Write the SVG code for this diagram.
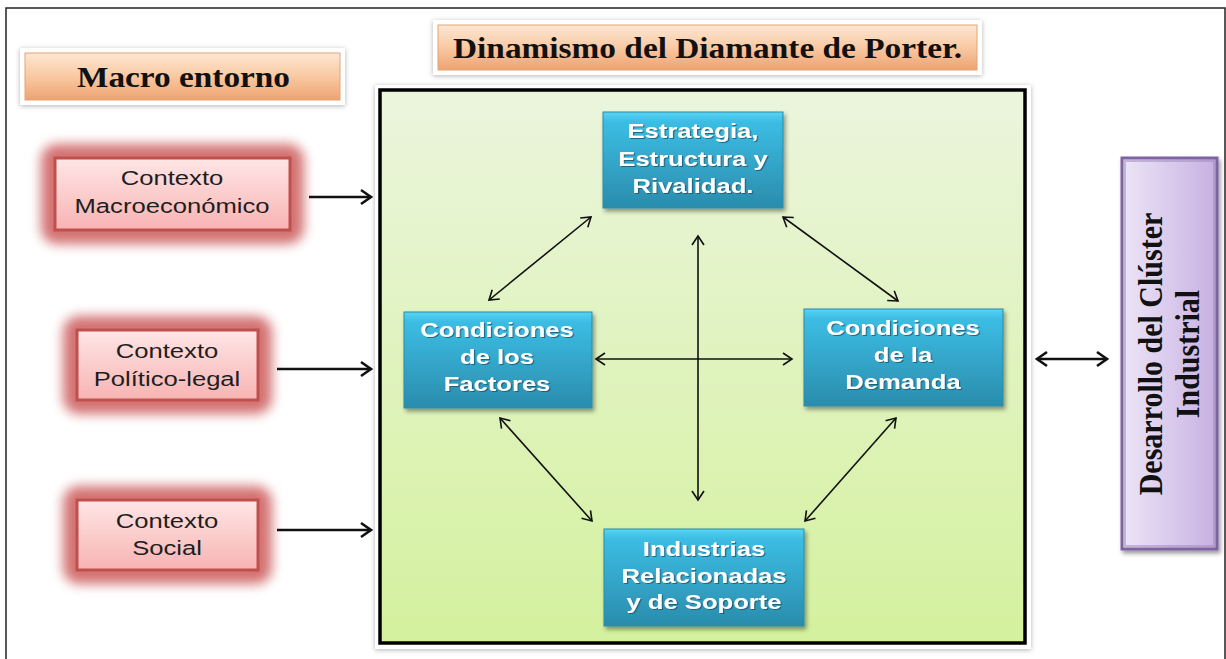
<svg xmlns="http://www.w3.org/2000/svg" width="1226" height="659" viewBox="0 0 1226 659">
<style>
.hdr{font-family:"Liberation Serif","Times New Roman",serif;font-weight:bold;font-size:29px;fill:#111}
.bt{font-family:"Liberation Sans",Arial,sans-serif;font-weight:bold;font-size:21px;fill:#ffffff;text-anchor:middle}
.pt{font-family:"Liberation Sans",Arial,sans-serif;font-size:20.5px;fill:#1e1e1e;text-anchor:middle}
.vt{font-family:"Liberation Serif","Times New Roman",serif;font-weight:bold;font-size:30px;fill:#111;text-anchor:middle}
.blue{fill:url(#gBlue);stroke:#2a8aa8;stroke-width:1}
.pink{fill:url(#gPink);stroke:#c0504d;stroke-width:3}
.peach{fill:url(#gPeach);stroke:#e3a477;stroke-width:1}
.glow{fill:#c94f50;opacity:0.8}
.thin{stroke:#111;stroke-width:1.6;fill:none;marker-end:url(#aThin);marker-start:url(#aThin)}
.thick{stroke:#111;stroke-width:2.6;fill:none;marker-end:url(#aThick)}
</style>
<defs>
<linearGradient id="gBlue" x1="0" y1="0" x2="0" y2="1">
<stop offset="0" stop-color="#58d4f4"/>
<stop offset="0.1" stop-color="#3cbde4"/>
<stop offset="1" stop-color="#2a8cac"/>
</linearGradient>
<linearGradient id="gPink" x1="0" y1="0" x2="0" y2="1">
<stop offset="0" stop-color="#ffe6e6"/>
<stop offset="1" stop-color="#f8b3b3"/>
</linearGradient>
<linearGradient id="gPeach" x1="0" y1="0" x2="0" y2="1">
<stop offset="0" stop-color="#fde7d5"/>
<stop offset="0.5" stop-color="#f9c9a2"/>
<stop offset="1" stop-color="#eea271"/>
</linearGradient>
<linearGradient id="gGreen" x1="0" y1="0" x2="0" y2="1">
<stop offset="0" stop-color="#ebf5dd"/>
<stop offset="1" stop-color="#d4f19e"/>
</linearGradient>
<linearGradient id="gPurple" x1="0" y1="0" x2="1" y2="0">
<stop offset="0" stop-color="#ece5f7"/>
<stop offset="1" stop-color="#c8b0e2"/>
</linearGradient>
<filter id="fGlow" x="-30%" y="-40%" width="160%" height="180%">
<feGaussianBlur stdDeviation="6"/>
</filter>
<filter id="fShadow" x="-10%" y="-10%" width="130%" height="130%">
<feDropShadow dx="2" dy="3" stdDeviation="2" flood-color="#000" flood-opacity="0.4"/>
</filter>
<filter id="fSoft" x="-10%" y="-20%" width="120%" height="150%">
<feDropShadow dx="0" dy="1" stdDeviation="2.5" flood-color="#000" flood-opacity="0.3"/>
</filter>
<filter id="fTxt" x="-10%" y="-20%" width="120%" height="150%">
<feDropShadow dx="1" dy="1" stdDeviation="0.6" flood-color="#0d4a5e" flood-opacity="0.7"/>
</filter>
<marker id="aThin" viewBox="-11 -7 13 14" markerWidth="13" markerHeight="14" refX="0" refY="0" orient="auto-start-reverse" markerUnits="userSpaceOnUse">
<path d="M-9,-6 L0,0 L-9,6" fill="none" stroke="#111" stroke-width="1.6"/>
</marker>
<marker id="aThick" viewBox="-13 -9 16 18" markerWidth="16" markerHeight="18" refX="0" refY="0" orient="auto-start-reverse" markerUnits="userSpaceOnUse">
<path d="M-10,-7 L0,0 L-10,7" fill="none" stroke="#111" stroke-width="2.6"/>
</marker>
</defs>

<rect x="0" y="0" width="1226" height="659" fill="#ffffff"/>
<rect id="frame" x="6" y="8" width="1219" height="670" fill="none" stroke="#222" stroke-width="1.5"/>

<g id="macro-entorno">
<rect x="20" y="48" width="325" height="57" fill="#fff" filter="url(#fSoft)"/>
<rect class="peach" x="25" y="53" width="315" height="47"/>
<text class="hdr" x="77" y="87" textLength="213" lengthAdjust="spacingAndGlyphs">Macro entorno</text>
</g>

<g id="titulo">
<rect x="433" y="20" width="549" height="55" fill="#fff" filter="url(#fSoft)"/>
<rect class="peach" x="438" y="25" width="539" height="45"/>
<text class="hdr" x="453" y="58" textLength="509" lengthAdjust="spacingAndGlyphs">Dinamismo del Diamante de Porter.</text>
</g>

<g id="diamante">
<rect x="375" y="85" width="656" height="564" fill="#fff" filter="url(#fSoft)"/>
<rect x="380" y="90" width="645" height="553" fill="url(#gGreen)" stroke="#000" stroke-width="3.5"/>
</g>

<g id="ctx-macro">
<rect class="glow" x="41" y="144" width="263" height="100" rx="16" filter="url(#fGlow)"/>
<rect class="pink" x="55" y="158" width="235" height="72"/>
<text class="pt" transform="translate(172,0) scale(1.25,1)"><tspan x="0" y="185">Contexto</tspan><tspan x="0" y="213">Macroeconómico</tspan></text>
</g>

<g id="ctx-politico">
<rect class="glow" x="63" y="316" width="209" height="98" rx="16" filter="url(#fGlow)"/>
<rect class="pink" x="77" y="330" width="181" height="70"/>
<text class="pt" transform="translate(167,0) scale(1.25,1)"><tspan x="0" y="358">Contexto</tspan><tspan x="0" y="386">Político-legal</tspan></text>
</g>

<g id="ctx-social">
<rect class="glow" x="63" y="486" width="209" height="98" rx="16" filter="url(#fGlow)"/>
<rect class="pink" x="77" y="500" width="181" height="70"/>
<text class="pt" transform="translate(167,0) scale(1.25,1)"><tspan x="0" y="528">Contexto</tspan><tspan x="0" y="555">Social</tspan></text>
</g>

<g id="estrategia">
<rect class="blue" x="603" y="112" width="180" height="96" filter="url(#fShadow)"/>
<text class="bt" filter="url(#fTxt)" transform="translate(693,0) scale(1.22,1)"><tspan x="0" y="138">Estrategia,</tspan><tspan x="0" y="166">Estructura y</tspan><tspan x="0" y="193">Rivalidad.</tspan></text>
</g>

<g id="factores">
<rect class="blue" x="404" y="312" width="188" height="96" filter="url(#fShadow)"/>
<text class="bt" filter="url(#fTxt)" transform="translate(497,0) scale(1.22,1)"><tspan x="0" y="337">Condiciones</tspan><tspan x="0" y="364">de los</tspan><tspan x="0" y="391">Factores</tspan></text>
</g>

<g id="demanda">
<rect class="blue" x="804" y="309" width="199" height="97" filter="url(#fShadow)"/>
<text class="bt" filter="url(#fTxt)" transform="translate(903,0) scale(1.22,1)"><tspan x="0" y="335">Condiciones</tspan><tspan x="0" y="362">de la</tspan><tspan x="0" y="389">Demanda</tspan></text>
</g>

<g id="industrias">
<rect class="blue" x="604" y="529" width="200" height="97" filter="url(#fShadow)"/>
<text class="bt" filter="url(#fTxt)" transform="translate(704,0) scale(1.22,1)"><tspan x="0" y="556">Industrias</tspan><tspan x="0" y="583">Relacionadas</tspan><tspan x="0" y="609">y de Soporte</tspan></text>
</g>

<g id="cluster">
<rect x="1122" y="158" width="95" height="391" fill="url(#gPurple)" stroke="#8064a2" stroke-width="3" filter="url(#fShadow)"/>
<rect x="1125" y="161" width="89" height="385" fill="none" stroke="#9b86b8" stroke-width="2" opacity="0.5"/>
<text class="vt" transform="translate(1162,354) scale(1.15,1) rotate(-90)"><tspan x="0" y="0">Desarrollo del Clúster</tspan><tspan x="0" y="32">Industrial</tspan></text>
</g>

<g id="connectors">
<line class="thick" x1="309" y1="197" x2="371" y2="197"/>
<line class="thick" x1="277" y1="369" x2="371" y2="369"/>
<line class="thick" x1="277" y1="530" x2="371" y2="530"/>
<line class="thick" x1="1037" y1="359" x2="1107" y2="359" marker-start="url(#aThick)"/>
<line class="thin" x1="591" y1="217" x2="489" y2="300"/>
<line class="thin" x1="783" y1="217" x2="898" y2="301"/>
<line class="thin" x1="698" y1="236" x2="698" y2="500"/>
<line class="thin" x1="596" y1="359" x2="792" y2="359"/>
<line class="thin" x1="500" y1="418" x2="592" y2="521"/>
<line class="thin" x1="896" y1="418" x2="805" y2="521"/>
</g>
</svg>
